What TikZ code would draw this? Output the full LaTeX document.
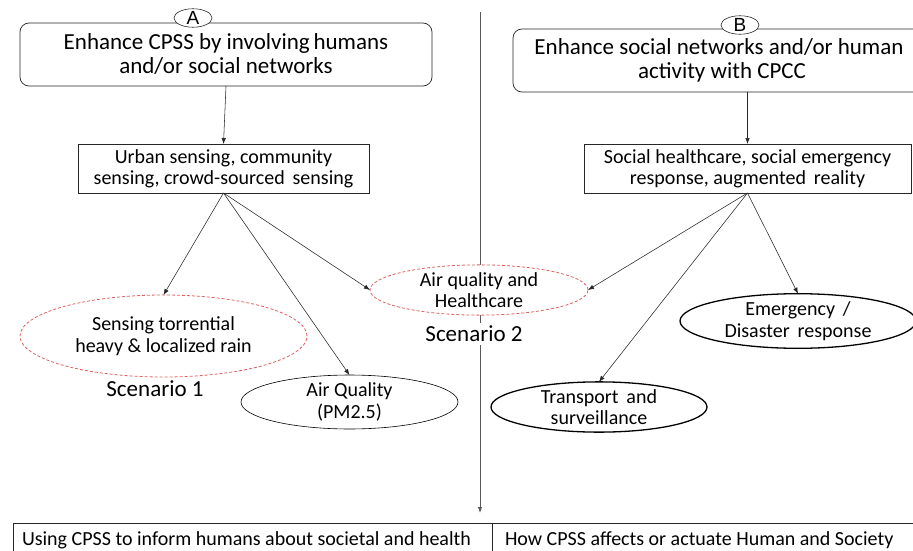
\documentclass[tikz,border=0pt]{standalone}
\usepackage{fontspec}
\setmainfont{Carlito}
\newfontfamily\labfont{Liberation Sans}
\usetikzlibrary{shapes.geometric,arrows.meta}
\definecolor{dashred}{HTML}{E06060}
\begin{document}
\begin{tikzpicture}[x=1pt,y=-1pt,
  every node/.style={inner sep=0pt, outer sep=0pt},
  goal/.style={draw=black!85, line width=0.7pt, rounded corners=9pt, align=center,
    font=\fontsize{23}{24}\selectfont},
  field/.style={draw=black!85, line width=0.7pt, fill=white, align=center,
    font=\fontsize{20}{21}\selectfont},
  tag/.style={ellipse, draw=black!85, line width=0.6pt, fill=white,
    minimum width=38pt, minimum height=18pt, font=\labfont\fontsize{19}{19}\selectfont},
  scen/.style={ellipse, draw=dashred, dash pattern=on 3pt off 2pt, line width=0.8pt,
    fill=white, align=center, font=\fontsize{20}{21.5}\selectfont},
  app/.style={ellipse, draw=black, fill=white, align=center,
    font=\fontsize{20}{21.5}\selectfont},
  caption/.style={font=\fontsize{23}{24}\selectfont, fill=white, inner sep=3pt},
  cell/.style={draw=black!85, line width=0.7pt, anchor=north west, align=left,
    font=\fontsize{20}{20}\selectfont},
  link/.style={-{Latex[length=6pt,width=4.5pt]}, line width=0.55pt, draw=black!85},
]
\useasboundingbox (0,0) rectangle (913,551);
\clip (0,0) rectangle (913,551);

% central divider running down to the two outcome cells
\coordinate (vt) at (480,12);
\coordinate (vb) at (480,513);
\draw[line width=1pt, -{Latex[length=6pt,width=4.5pt]}, color=black!65] (vt) -- (vb);

% outcome row
\node[cell, minimum width=479pt, minimum height=40pt] (use) at (13,523) {};
\node[cell, minimum width=430pt, minimum height=40pt] (how) at (492,523) {};
\node[anchor=west, font=\fontsize{20}{20}\selectfont] (uset) at ([xshift=9pt,yshift=-17pt]use.north west)
  {Using CPSS to inform humans about societal and health};
\node[anchor=west, font=\fontsize{20}{20}\selectfont] (howt) at ([xshift=13pt,yshift=-17pt]how.north west)
  {How CPSS affects or actuate Human and Society};

% side A
\node[goal, minimum width=412pt, minimum height=63pt] (ga) at (226,54.5)
  {Enhance CPSS by involving\,humans\\and/or social networks};
\node[tag] (la) at (193,18) {A};
\node[field, minimum width=291pt, minimum height=49pt] (fa) at (223.5,168.5)
  {Urban sensing, community\\sensing, crowd-sourced\, sensing};

% side B
\node[goal, minimum width=412pt, minimum height=63pt, anchor=west] (gb) at (513,60.5)
  {Enhance social networks and/or human\\activity with CPCC\hspace*{-6pt}};
\node[tag] (lb) at (740,25) {B};
\node[field, minimum width=327pt, minimum height=49pt] (fb) at (747.5,168.5)
  {Social healthcare, social emergency\\response, augmented\, reality};

% scenarios and applications
\node[scen, minimum width=287pt, minimum height=82pt] (rain) at (163.5,336)
  {Sensing torrential\\heavy \& localized rain};
\node[scen, minimum width=218pt, minimum height=50pt] (heal) at (479,290)
  {Air quality and\\Healthcare};
\node[app, line width=0.6pt, minimum width=217pt, minimum height=50pt] (pm) at (349.5,402)
  {Air Quality\\(PM2.5)};
\node[app, line width=1.3pt, minimum width=216pt, minimum height=50pt] (tra) at (599,407)
  {Transport\, and\\surveillance};
\node[app, line width=1.3pt, minimum width=236pt, minimum height=48pt] (eme) at (798,321)
  {Emergency\, /\\Disaster\, response};

\node[caption, anchor=center] (s1) at (155,389) {Scenario 1};
\node[caption, anchor=center] (s2) at (474,334) {Scenario 2};

% connectors
\draw[link] (ga.south) -- (fa.north);
\draw[link] (fb.north |- gb.south) -- (fb.north);
\draw[link] (fa.south) -- (rain.north);
\draw[link] (fa.south) -- (pm.north);
\draw[link] (fa.south) -- (heal.west);
\draw[link] (fb.south) -- (heal.east);
\draw[link] (fb.south) -- (tra.north);
\draw[link] (fb.south) -- (eme.north);
\end{tikzpicture}
\end{document}
